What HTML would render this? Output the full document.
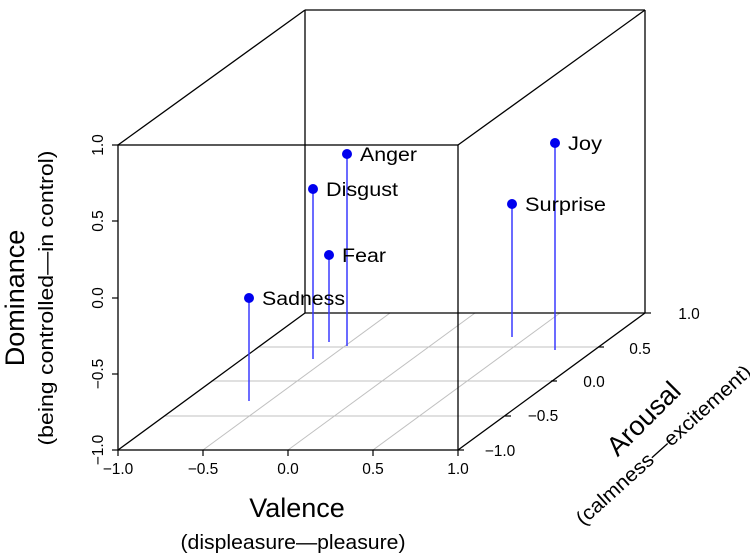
<!DOCTYPE html>
<html><head><meta charset="utf-8"><style>body{margin:0;background:#fff}</style></head><body>
<svg width="750" height="554" xmlns="http://www.w3.org/2000/svg" font-family="Liberation Sans, sans-serif">
<rect width="750" height="554" fill="#fff"/>
<g stroke="#c0c0c0" stroke-width="1">
<line x1="165" y1="416" x2="505" y2="416"/>
<line x1="211" y1="381" x2="551" y2="381"/>
<line x1="258" y1="347" x2="598" y2="347"/>
<line x1="203" y1="450" x2="390" y2="313"/>
<line x1="288" y1="450" x2="475" y2="313"/>
<line x1="373" y1="450" x2="560" y2="313"/>
</g>
<g stroke="#000" stroke-width="1.3" fill="none">
<line x1="305" y1="10" x2="645" y2="10"/>
<line x1="305" y1="10" x2="305" y2="313"/>
<line x1="645" y1="10" x2="645" y2="313"/>
<line x1="305" y1="313" x2="645" y2="313"/>
<line x1="118" y1="145" x2="305" y2="10"/>
<line x1="458" y1="145" x2="645" y2="10"/>
<line x1="118" y1="450" x2="305" y2="313"/>
<line x1="458" y1="450" x2="645" y2="313"/>
</g>
<g stroke="#3a3aff" stroke-width="1.5">
<line x1="249" y1="298" x2="249" y2="401"/>
<line x1="313" y1="189" x2="313" y2="359"/>
<line x1="329" y1="255" x2="329" y2="342"/>
<line x1="347" y1="154" x2="347" y2="346"/>
<line x1="512" y1="204" x2="512" y2="337"/>
<line x1="555" y1="143" x2="555" y2="350"/>
</g>
<rect x="118" y="145" width="340" height="305" fill="none" stroke="#000" stroke-width="1.3"/>
<g fill="#0000ee">
<circle cx="249" cy="298" r="5"/><circle cx="313" cy="189" r="5"/><circle cx="329" cy="255" r="5"/>
<circle cx="347" cy="154" r="5"/><circle cx="512" cy="204" r="5"/><circle cx="555" cy="143" r="5"/>
</g>
<g font-size="19" fill="#000">
<text x="262" y="305" textLength="83" lengthAdjust="spacingAndGlyphs">Sadness</text>
<text x="326" y="196" textLength="72" lengthAdjust="spacingAndGlyphs">Disgust</text>
<text x="342" y="262" textLength="44" lengthAdjust="spacingAndGlyphs">Fear</text>
<text x="360" y="161" textLength="57" lengthAdjust="spacingAndGlyphs">Anger</text>
<text x="525" y="211" textLength="81" lengthAdjust="spacingAndGlyphs">Surprise</text>
<text x="568" y="150" textLength="34" lengthAdjust="spacingAndGlyphs">Joy</text>
</g>
<g stroke="#000" stroke-width="1.2">
<line x1="118" y1="145" x2="112" y2="145"/><line x1="118" y1="221" x2="112" y2="221"/><line x1="118" y1="298" x2="112" y2="298"/><line x1="118" y1="374" x2="112" y2="374"/><line x1="118" y1="450" x2="112" y2="450"/>
<line x1="118" y1="450" x2="118" y2="456"/><line x1="203" y1="450" x2="203" y2="456"/><line x1="288" y1="450" x2="288" y2="456"/><line x1="373" y1="450" x2="373" y2="456"/><line x1="458" y1="450" x2="458" y2="456"/>
<line x1="458" y1="450" x2="464" y2="450"/><line x1="505" y1="416" x2="511" y2="416"/><line x1="551" y1="381" x2="557" y2="381"/><line x1="598" y1="347" x2="604" y2="347"/><line x1="645" y1="313" x2="651" y2="313"/>
</g>
<g font-size="15.5" fill="#000" text-anchor="middle">
<text transform="translate(103,145) rotate(-90)">1.0</text>
<text transform="translate(103,221) rotate(-90)">0.5</text>
<text transform="translate(103,298) rotate(-90)">0.0</text>
<text transform="translate(103,374) rotate(-90)">−0.5</text>
<text transform="translate(103,450) rotate(-90)">−1.0</text>
<text x="118" y="474">−1.0</text><text x="203" y="474">−0.5</text><text x="288" y="474">0.0</text><text x="373" y="474">0.5</text><text x="458" y="474">1.0</text>
<text x="500" y="456">−1.0</text><text x="543" y="421">−0.5</text><text x="594" y="387">0.0</text><text x="640" y="354">0.5</text><text x="689" y="319">1.0</text>
</g>
<text transform="translate(24,298) rotate(-90)" font-size="27" text-anchor="middle">Dominance</text>
<text transform="translate(53,298) rotate(-90)" font-size="20" text-anchor="middle" textLength="295" lengthAdjust="spacingAndGlyphs">(being controlled—in control)</text>
<text x="297" y="517" font-size="27" text-anchor="middle">Valence</text>
<text x="293" y="549" font-size="20" text-anchor="middle" textLength="225" lengthAdjust="spacingAndGlyphs">(displeasure—pleasure)</text>
<text transform="translate(650,425) rotate(-45)" font-size="27" text-anchor="middle">Arousal</text>
<text transform="translate(668,450) rotate(-42)" font-size="20" text-anchor="middle" textLength="228" lengthAdjust="spacingAndGlyphs">(calmness—excitement)</text>
</svg>
</body></html>
